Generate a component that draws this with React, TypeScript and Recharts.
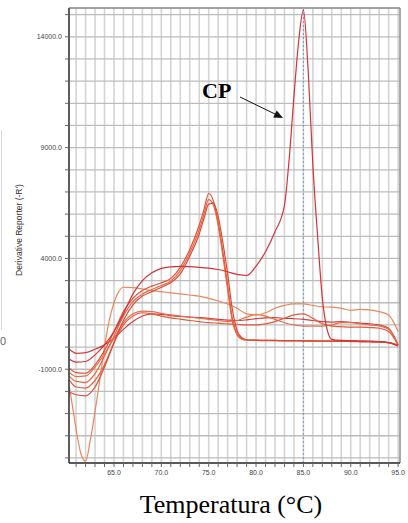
import { LineChart, Line, XAxis, YAxis, CartesianGrid, ReferenceLine } from 'recharts';

// temperature grids (°C)
const baseTemps = [60.3, 61, 62, 63, 64, 65, 66, 67, 68, 69, 70, 71, 72, 73, 74, 75, 76, 77, 78, 79, 80, 81, 82, 83, 84, 85, 86, 87, 88, 89, 90, 91, 92, 93, 94, 95];
const dipTemps = [60.3, 60.7, 61, 61.5, 62, 62.5, 63, 63.5, 64, 64.5, 65, 65.5, 66, 67, 68, 69, 70, 71, 72, 73, 74, 75, 76, 77, 78, 79, 80, 81, 82, 83, 84, 85, 86, 87, 88, 89, 90, 91, 92, 93, 94, 95];
const peakTemps = [60.3, 61, 62, 63, 64, 65, 66, 67, 68, 69, 70, 71, 72, 73, 74, 74.5, 75, 75.5, 76, 76.5, 77, 77.5, 78, 78.5, 79, 80, 81, 82, 83, 84, 85, 86, 87, 88, 89, 90, 91, 92, 93, 94, 95];
const cpTemps = [60.3, 61, 62, 63, 64, 65, 66, 67, 68, 69, 70, 71, 72, 73, 74, 75, 76, 77, 78, 79, 80, 81, 82, 83, 83.5, 84, 84.5, 85, 85.5, 86, 86.5, 87, 87.5, 88, 89, 90, 91, 92, 93, 94, 95];

// derivative reporter (-R') values
const cpCurve = [-550, -680, -650, -350, 100, 700, 1500, 2400, 3000, 3350, 3550, 3620, 3640, 3630, 3600, 3560, 3500, 3400, 3280, 3230, 3650, 4300, 5200, 6400, 8500, 11300, 13800, 15200, 12500, 8200, 5000, 2200, 800, 350, 300, 290, 280, 270, 250, 200, 50];
const peakA = [-950, -1150, -1180, -800, -150, 700, 1600, 2200, 2550, 2750, 2900, 3100, 3600, 4400, 5500, 6200, 6930, 6600, 5600, 4300, 2800, 1300, 600, 380, 320, 300, 290, 290, 280, 280, 280, 270, 270, 260, 260, 250, 250, 240, 230, 200, 80];
const peakB = [-1320, -1550, -1600, -1200, -400, 500, 1400, 2050, 2400, 2600, 2780, 2980, 3450, 4250, 5300, 6000, 6650, 6400, 5500, 4100, 2600, 1150, 550, 360, 320, 310, 300, 300, 290, 290, 280, 280, 270, 270, 260, 260, 250, 240, 230, 200, 80];
const peakC = [-2040, -2150, -2200, -1800, -900, 200, 1200, 1900, 2300, 2500, 2700, 2900, 3300, 4100, 5100, 5800, 6450, 6500, 5900, 4700, 3300, 1700, 750, 420, 330, 310, 300, 300, 290, 290, 280, 280, 270, 270, 260, 260, 250, 240, 230, 200, 80];
const dipCurve = [-1800, -2900, -3700, -4800, -5150, -4200, -2900, -1500, 0, 1200, 2000, 2500, 2700, 2680, 2620, 2550, 2500, 2450, 2400, 2350, 2300, 2200, 2080, 1950, 1750, 1500, 1450, 1550, 1750, 1880, 1950, 1950, 1880, 1820, 1800, 1750, 1660, 1700, 1680, 1600, 1450, 700];
const flatA = [-100, -280, -250, -100, 100, 400, 800, 1150, 1400, 1500, 1480, 1420, 1380, 1350, 1330, 1300, 1250, 1220, 1200, 1230, 1280, 1320, 1330, 1300, 1280, 1250, 1200, 1150, 1130, 1150, 1120, 1080, 1050, 1000, 850, 100];
const flatB = [-1140, -1330, -1300, -900, -300, 400, 1100, 1500, 1620, 1600, 1520, 1450, 1400, 1350, 1300, 1250, 1200, 1150, 1200, 1350, 1480, 1400, 1250, 1100, 1000, 950, 950, 950, 1000, 1100, 1100, 1050, 1000, 950, 800, 100];
const flatC = [-1500, -1800, -1850, -1500, -800, 200, 1000, 1400, 1550, 1500, 1400, 1320, 1260, 1200, 1150, 1100, 1080, 1050, 1030, 1000, 1000, 1050, 1150, 1300, 1450, 1500, 1300, 1050, 950, 920, 900, 900, 880, 850, 700, 100];

const xLabeled = [65, 70, 75, 80, 85, 90, 95];
const yLabeled = [-1000, 4000, 9000, 14000];
const xTicks = Array.from({ length: 35 }, (_, i) => 61 + i);
const yTicks = Array.from({ length: 21 }, (_, i) => -5000 + i * 1000);

const series = [
  { id: 'flatA', temps: baseTemps, values: flatA, color: '#d4403a' },
  { id: 'flatB', temps: baseTemps, values: flatB, color: '#e07050' },
  { id: 'flatC', temps: baseTemps, values: flatC, color: '#e35a3c' },
  { id: 'dip', temps: dipTemps, values: dipCurve, color: '#e8875a' },
  { id: 'peakA', temps: peakTemps, values: peakA, color: '#e0503a' },
  { id: 'peakB', temps: peakTemps, values: peakB, color: '#e8663f' },
  { id: 'peakC', temps: peakTemps, values: peakC, color: '#dc4a34' },
  { id: 'cp', temps: cpTemps, values: cpCurve, color: '#d2333a' },
];

const toPoints = (temps: number[], values: number[]) => temps.map((t, i) => ({ t, v: values[i] }));

const tickStyle = { fontSize: 7, fill: '#444', stroke: 'none', fontFamily: 'Arial, "Liberation Sans", sans-serif' };

export default function App() {
  return (
    <div style={{ position: 'absolute', left: 0, top: 0, width: 408, height: 523, background: '#fff' }}>
      <LineChart width={408} height={523} margin={{ top: 8, right: 8, left: 0, bottom: 0 }}>
        <CartesianGrid vertical={true} horizontal={false} stroke="#d4d4d4" strokeWidth={1.6} />
        <CartesianGrid vertical={false} horizontal={true} stroke="#bcbcbc" strokeWidth={1.3} />
        <XAxis
          type="number"
          dataKey="t"
          domain={[60.25, 95.2]}
          ticks={xTicks}
          interval={0}
          height={60}
          tick={tickStyle}
          tickSize={4}
          tickMargin={3}
          tickLine={{ stroke: '#666' }}
          axisLine={{ stroke: '#333', strokeWidth: 1.5 }}
          tickFormatter={(v: number) => (xLabeled.includes(v) ? v.toFixed(1) : '')}
          allowDataOverflow
        />
        <YAxis
          type="number"
          domain={[-5230, 15300]}
          ticks={yTicks}
          interval={0}
          width={69}
          tick={tickStyle}
          tickSize={4}
          tickMargin={3}
          tickLine={{ stroke: '#666' }}
          axisLine={{ stroke: '#333', strokeWidth: 1.5 }}
          tickFormatter={(v: number) => (yLabeled.includes(v) ? v.toFixed(1) : '')}
          allowDataOverflow
        />
        <ReferenceLine y={15300} stroke="#777" />
        <ReferenceLine x={95.2} stroke="#777" />
        <ReferenceLine x={85} stroke="#6e9fc4" strokeDasharray="2 2" />
        {series.map((s) => (
          <Line
            key={s.id}
            data={toPoints(s.temps, s.values)}
            dataKey="v"
            type="monotone"
            stroke={s.color}
            strokeWidth={1.2}
            dot={false}
            isAnimationActive={false}
          />
        ))}
      </LineChart>
      <svg width={408} height={523} style={{ position: 'absolute', left: 0, top: 0, pointerEvents: 'none' }}>
        <line x1={1.5} y1={130} x2={1.5} y2={330} stroke="#d8d8d8" />
        <text x={0} y={345} fontSize={11} fill="#666" fontFamily="Arial, sans-serif">0</text>
        <text
          x={22}
          y={230}
          fontSize={8.5}
          fill="#333"
          textAnchor="middle"
          fontFamily="Arial, 'Liberation Sans', sans-serif"
          transform="rotate(-90, 22, 230)"
        >
          Derivative Reporter (-R')
        </text>
        <text x={202} y={98} fontSize={22} fontWeight="bold" fill="#000" fontFamily="'Liberation Serif', 'Times New Roman', serif">
          CP
        </text>
        <line x1={240} y1={97} x2={276} y2={114.5} stroke="#111" strokeWidth={1} />
        <polygon points="283,118 273.1,117.6 276.7,110.4" fill="#111" />
        <text x={231} y={513} fontSize={26} fill="#000" textAnchor="middle" fontFamily="'Liberation Serif', 'Times New Roman', serif">
          Temperatura (°C)
        </text>
      </svg>
    </div>
  );
}
